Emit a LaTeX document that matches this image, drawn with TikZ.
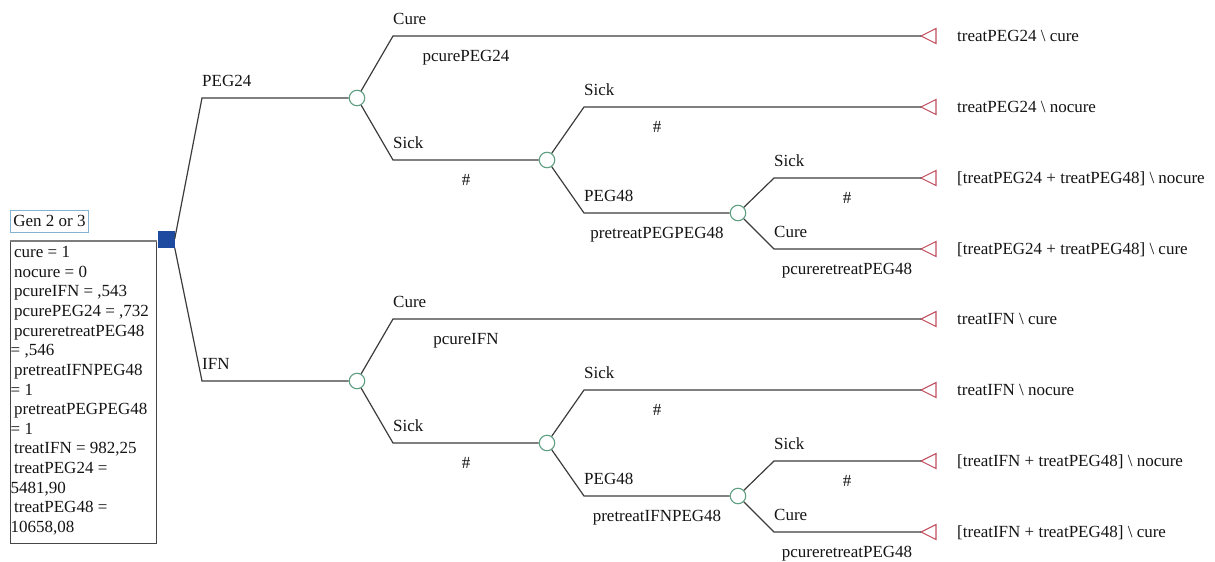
\documentclass[tikz,border=0pt]{standalone}
\usepackage{fontspec}
\setmainfont{Liberation Serif}
\definecolor{linegray}{RGB}{60,60,60}
\definecolor{chancegreen}{RGB}{95,160,130}
\definecolor{termred}{RGB}{192,80,95}
\definecolor{decblue}{RGB}{30,75,160}
\definecolor{genblue}{RGB}{130,180,210}
\definecolor{boxgray}{RGB}{70,70,70}
\definecolor{topgray}{RGB}{125,125,125}
\definecolor{txt}{RGB}{20,20,20}
\begin{document}
\begin{tikzpicture}[x=1pt,y=-1pt,
  font=\fontsize{17}{18.3}\selectfont, text=txt,
  edge/.style={draw=linegray, line width=1.2pt},
  chance/.style={circle, draw=chancegreen, fill=white, line width=1.1pt, minimum size=15.5pt, inner sep=0pt},
  decision/.style={rectangle, fill=decblue, minimum size=17pt, inner sep=0pt},
  termtri/.style={draw=termred, line width=1.1pt, line join=miter},
  brlabel/.style={anchor=base west, inner sep=0pt},
  problabel/.style={anchor=base, inner sep=0pt},
  termlabel/.style={anchor=base west, inner sep=0pt},
  varline/.style={anchor=base west, inner sep=0pt},
]
\useasboundingbox (0,0) rectangle (1215,562);

% decision and chance nodes
\node[decision] (d) at (166,239) {};
\node[chance] (c1) at (357,98) {};
\node[chance] (c2) at (547,160) {};
\node[chance] (c3) at (738,213) {};
\node[chance] (c4) at (357,381) {};
\node[chance] (c5) at (547,443) {};
\node[chance] (c6) at (738,496) {};

% terminal points
\coordinate (t1) at (921,36);
\coordinate (t2) at (921,107);
\coordinate (t3) at (921,178);
\coordinate (t4) at (921,249);
\coordinate (t5) at (921,319);
\coordinate (t6) at (921,390);
\coordinate (t7) at (921,461);
\coordinate (t8) at (921,532);
\foreach \t in {t1,t2,t3,t4,t5,t6,t7,t8}
  \draw[termtri] (\t) -- ++(15,-7.5) -- ++(0,15) -- cycle;

% info boxes
\node[draw=genblue, line width=1pt, anchor=west, minimum width=78pt, minimum height=22pt, inner xsep=2pt, inner ysep=0pt] (gen) at (10,221) {Gen 2 or 3};
\node[draw=boxgray, line width=1.3pt, anchor=north west, minimum width=146pt, minimum height=302pt, inner sep=0pt] (vars) at (10,241) {};
\draw[topgray, line width=2.4pt] (vars.north west) -- (vars.north west -| d.west);

\node[varline] (v1) at (14,257.5) {cure = 1};
\node[varline] (v2) at (14,277.1) {nocure = 0};
\node[varline] (v3) at (14,296.8) {pcureIFN = ,543};
\node[varline] (v4) at (14,316.4) {pcurePEG24 = ,732};
\node[varline] (v5) at (14,336.1) {pcureretreatPEG48};
\node[varline] (v6) at (10.5,355.7) {= ,546};
\node[varline] (v7) at (14,375.3) {pretreatIFNPEG48};
\node[varline] (v8) at (10.5,395) {= 1};
\node[varline] (v9) at (14,414.6) {pretreatPEGPEG48};
\node[varline] (v10) at (10.5,434.3) {= 1};
\node[varline] (v11) at (14,453.9) {treatIFN = 982,25};
\node[varline] (v12) at (14,473.5) {treatPEG24 =};
\node[varline] (v13) at (10.5,493.2) {5481,90};
\node[varline] (v14) at (14,512.8) {treatPEG48 =};
\node[varline] (v15) at (10.5,532.5) {10658,08};

% connectors
\draw[edge] (d.east) -- (202,98) -- (c1);
\draw[edge] (d.south east) -- (202,381) -- (c4);

\draw[edge] (c1) -- (393,36) -- (t1);
\draw[edge] (c1) -- (393,160) -- (c2);
\draw[edge] (c2) -- (584,107) -- (t2);
\draw[edge] (c2) -- (584,213) -- (c3);
\draw[edge] (c3) -- (774,178) -- (t3);
\draw[edge] (c3) -- (774,249) -- (t4);

\draw[edge] (c4) -- (393,319) -- (t5);
\draw[edge] (c4) -- (393,443) -- (c5);
\draw[edge] (c5) -- (584,390) -- (t6);
\draw[edge] (c5) -- (584,496) -- (c6);
\draw[edge] (c6) -- (774,461) -- (t7);
\draw[edge] (c6) -- (774,532) -- (t8);

% branch labels
\node[brlabel] (lpeg24) at (202,86) {PEG24};
\node[brlabel] (lifn) at (202,369) {IFN};

\node[brlabel] (l1) at (393,24) {Cure};
\node[brlabel] (l2) at (393,148) {Sick};
\node[brlabel] (l3) at (584,95) {Sick};
\node[brlabel] (l4) at (584,201) {PEG48};
\node[brlabel] (l5) at (774,166) {Sick};
\node[brlabel] (l6) at (774,237) {Cure};

\node[brlabel] (l7) at (393,307) {Cure};
\node[brlabel] (l8) at (393,431) {Sick};
\node[brlabel] (l9) at (584,378) {Sick};
\node[brlabel] (l10) at (584,484) {PEG48};
\node[brlabel] (l11) at (774,449) {Sick};
\node[brlabel] (l12) at (774,520) {Cure};

% probability labels
\node[problabel] (p1) at (466,61) {pcurePEG24};
\node[problabel] (p2) at (466,185) {\#};
\node[problabel] (p3) at (657,132) {\#};
\node[problabel] (p4) at (657,238) {pretreatPEGPEG48};
\node[problabel] (p5) at (847,203) {\#};
\node[problabel] (p6) at (847,274) {pcureretreatPEG48};

\node[problabel] (p7) at (466,344) {pcureIFN};
\node[problabel] (p8) at (466,468) {\#};
\node[problabel] (p9) at (657,415) {\#};
\node[problabel] (p10) at (657,521) {pretreatIFNPEG48};
\node[problabel] (p11) at (847,486) {\#};
\node[problabel] (p12) at (847,557) {pcureretreatPEG48};

% terminal labels
\node[termlabel] (e1) at (957,41) {treatPEG24 \textbackslash{} cure};
\node[termlabel] (e2) at (957,112) {treatPEG24 \textbackslash{} nocure};
\node[termlabel] (e3) at (957,183) {[treatPEG24 + treatPEG48] \textbackslash{} nocure};
\node[termlabel] (e4) at (957,254) {[treatPEG24 + treatPEG48] \textbackslash{} cure};
\node[termlabel] (e5) at (957,324) {treatIFN \textbackslash{} cure};
\node[termlabel] (e6) at (957,395) {treatIFN \textbackslash{} nocure};
\node[termlabel] (e7) at (957,466) {[treatIFN + treatPEG48] \textbackslash{} nocure};
\node[termlabel] (e8) at (957,537) {[treatIFN + treatPEG48] \textbackslash{} cure};
\end{tikzpicture}
\end{document}
